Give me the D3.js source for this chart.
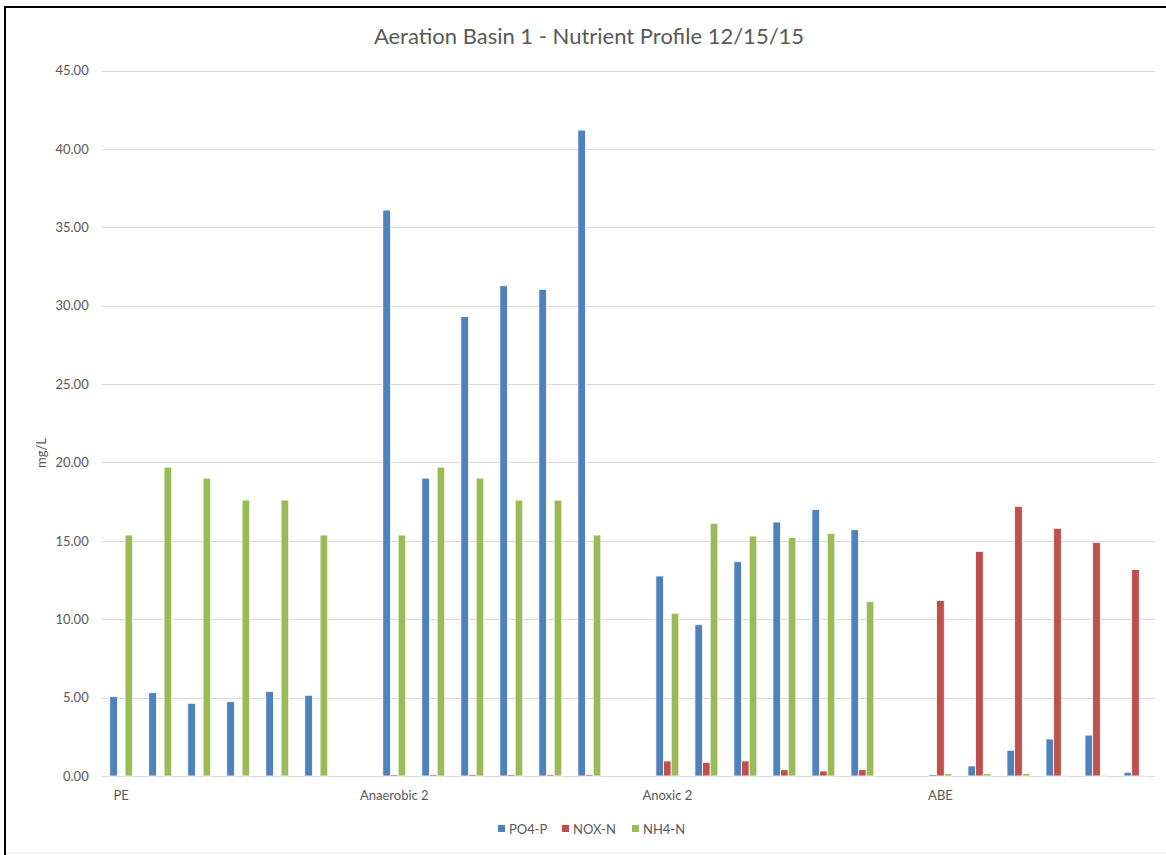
<!DOCTYPE html>
<html>
<head>
<meta charset="utf-8">
<script src="https://cdn.jsdelivr.net/npm/d3@7"></script>
<style>
  html, body { margin: 0; padding: 0; background: #fff; }
  svg { display: block; }
  text { font-family: Lato, "Open Sans", sans-serif; fill: #595959; }
</style>
</head>
<body>
<svg id="chart" width="1166" height="855"></svg>
<script>
// ---- Data ----
const groupNames = ["PE", "Anaerobic 2", "Anoxic 2", "ABE"];
// 27 categories: 6 samples per group with a blank category between groups
const categories = [
  "PE","","","","","","",
  "Anaerobic 2","","","","","","",
  "Anoxic 2","","","","","","",
  "ABE","","","","",""
];
const seriesNames = ["PO4-P", "NOX-N", "NH4-N"];
const seriesColors = ["#4f81bd", "#c0504d", "#9bbb59"];
const po4 = [
  5.06, 5.31, 4.64, 4.74, 5.40, 5.15, null,
  36.1, 19.0, 29.3, 31.27, 31.04, 41.2, null,
  12.76, 9.65, 13.67, 16.2, 17.0, 15.71, null,
  0.1, 0.64, 1.64, 2.36, 2.61, 0.24
];
const nox = [
  null, null, null, null, null, null, null,
  0.1, 0.1, 0.1, 0.1, 0.1, 0.1, null,
  0.96, 0.87, 0.96, 0.40, 0.32, 0.40, null,
  11.2, 14.33, 17.2, 15.8, 14.9, 13.18
];
const nh4 = [
  15.37, 19.7, 19.0, 17.6, 17.6, 15.37, null,
  15.37, 19.7, 19.0, 17.6, 17.6, 15.37, null,
  10.38, 16.12, 15.31, 15.22, 15.48, 11.12, null,
  0.15, 0.15, 0.15, 0.06, 0.06, 0.06
];
const yTicks = [0, 5, 10, 15, 20, 25, 30, 35, 40, 45];
const titleText = "Aeration Basin 1 - Nutrient Profile 12/15/15";
const yAxisTitle = "mg/L";

// ---- Layout ----
const svg = d3.select("#chart");
const plotL = 101.7, plotR = 1155, plotT = 70.5, plotB = 776;
const fontStack = "Lato, 'Open Sans', sans-serif";

// frame
svg.append("rect").attr("x", 4).attr("y", 6).attr("width", 1162).attr("height", 2).attr("fill", "#000");
svg.append("rect").attr("x", 4).attr("y", 6).attr("width", 2).attr("height", 849).attr("fill", "#000");
svg.append("rect").attr("x", 6).attr("y", 852.5).attr("width", 1160).attr("height", 1).attr("fill", "#e6e6e6");

const idx = categories.map((d, i) => i);
const x = d3.scaleBand().domain(idx).range([plotL, plotR]).paddingInner(0).paddingOuter(0);
const y = d3.scaleLinear().domain([0, 45]).range([plotB, plotT]);

// gridlines
svg.append("g").selectAll("line").data(yTicks).join("line")
  .attr("x1", plotL).attr("x2", plotR)
  .attr("y1", d => Math.round(y(d)) + 0.5).attr("y2", d => Math.round(y(d)) + 0.5)
  .attr("stroke", "#d9d9d9").attr("stroke-width", 1);

// y axis labels
const yAxis = d3.axisLeft(y).tickValues(yTicks).tickFormat(d3.format(".2f")).tickSize(0).tickPadding(0);
const yg = svg.append("g").attr("transform", `translate(${plotL - 13},0)`).call(yAxis);
yg.select(".domain").remove();
yg.selectAll("text").attr("font-size", 13).style("font-family", fontStack).attr("fill", "#595959");

// x axis labels
const xAxis = d3.axisBottom(x).tickFormat(i => categories[i]).tickSize(0).tickPadding(0);
const xg = svg.append("g").attr("transform", `translate(0,${plotB + 15})`).call(xAxis);
xg.select(".domain").remove();
xg.selectAll("text").attr("font-size", 13).style("font-family", fontStack).attr("fill", "#595959");

// bars
const series = [po4, nox, nh4];
const inner = d3.scaleBand().domain([0, 1, 2]).range([0, x.bandwidth()]).paddingOuter(1.05).paddingInner(0);
series.forEach((vals, s) => {
  svg.append("g").selectAll("rect")
    .data(vals.map((v, i) => ({ v, i })).filter(d => d.v != null))
    .join("rect")
    .attr("x", d => x(d.i) + inner(s))
    .attr("width", inner.bandwidth())
    .attr("y", d => y(d.v))
    .attr("height", d => y(0) - y(d.v))
    .attr("fill", seriesColors[s])
    .attr("stroke", "#fff").attr("stroke-width", 0.8);
});

// title
svg.append("text").attr("x", 589).attr("y", 44).attr("text-anchor", "middle")
  .attr("font-size", 22).text(titleText);

// y axis title
svg.append("text").attr("transform", "translate(46,453) rotate(-90)").attr("text-anchor", "middle")
  .attr("font-size", 13).text(yAxisTitle);

// legend
const legendX = [498, 562, 632];
const lg = svg.append("g");
seriesNames.forEach((n, s) => {
  lg.append("rect").attr("x", legendX[s]).attr("y", 825).attr("width", 7).attr("height", 7).attr("fill", seriesColors[s]);
  lg.append("text").attr("x", legendX[s] + 11).attr("y", 833.5).attr("font-size", 13).text(n);
});
</script>
</body>
</html>
